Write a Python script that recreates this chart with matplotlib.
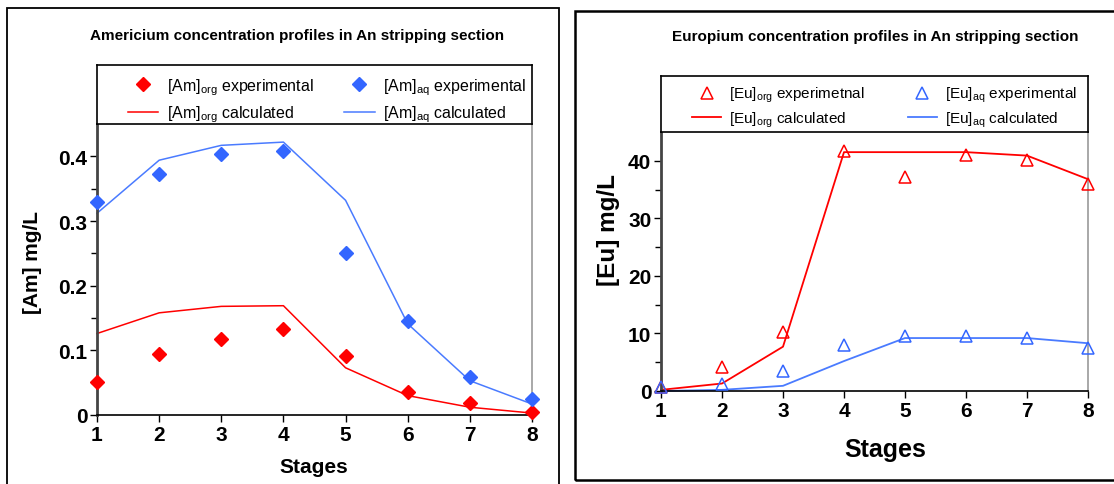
import matplotlib.pyplot as plt
import matplotlib.patches as patches
import numpy as np

plt.rcParams['font.family'] = ['Liberation Sans', 'DejaVu Sans']
plt.rcParams['mathtext.default'] = 'regular'

stages = [1, 2, 3, 4, 5, 6, 7, 8]

# Americium (mg/L)
am_org_exp = [0.051, 0.095, 0.118, 0.133, 0.091, 0.035, 0.018, 0.005]
am_aq_exp = [0.329, 0.373, 0.404, 0.409, 0.251, 0.145, 0.058, 0.025]
am_org_calc = [0.126, 0.158, 0.168, 0.169, 0.073, 0.030, 0.012, 0.003]
am_aq_calc = [0.312, 0.394, 0.417, 0.422, 0.332, 0.141, 0.053, 0.017]

# Europium (mg/L)
eu_org_exp = [0.7, 4.1, 10.3, 41.7, 37.1, 41.0, 40.2, 36.0]
eu_aq_exp = [0.7, 1.3, 3.5, 8.0, 9.6, 9.6, 9.2, 7.4]
eu_org_calc = [0.2, 1.3, 7.7, 41.5, 41.5, 41.5, 40.9, 36.8]
eu_aq_calc = [0.0, 0.2, 0.9, 5.2, 9.2, 9.2, 9.2, 8.3]

RED = '#ff0000'
BLUE = '#3366ff'
BLUE_LINE = '#4a7bff'

W, H = 1114, 485
fig = plt.figure(figsize=(W / 100, H / 100), dpi=100)


def px(x0, y0, x1, y1):
    # pixel box -> figure rect
    return [x0 / W, 1 - y1 / H, (x1 - x0) / W, (y1 - y0) / H]


# panel frames
fig.add_artist(patches.Rectangle((7 / W, -0.1), (559 - 7) / W, 1 - 9 / H + 0.1,
                                 transform=fig.transFigure, fill=False, lw=1.3, ec='black'))
fig.add_artist(patches.Rectangle((575 / W, 1 - 481 / H), (1200 - 575) / W, (481 - 12) / H,
                                 transform=fig.transFigure, fill=False, lw=1.8, ec='black'))


def style_axes(ax, tick_fs):
    ax.spines['left'].set_color('#444444')
    ax.spines['left'].set_linewidth(2)
    ax.spines['bottom'].set_color('black')
    ax.spines['bottom'].set_linewidth(1.2)
    ax.spines['right'].set_color('#999999')
    ax.spines['right'].set_linewidth(1.2)
    ax.spines['top'].set_visible(False)
    ax.tick_params(axis='both', which='major', direction='out', length=5, width=1,
                   labelsize=tick_fs, pad=2)
    ax.tick_params(axis='y', which='minor', direction='out', length=4, width=1)
    ax.tick_params(axis='x', which='minor', length=0)
    for lab in ax.get_xticklabels() + ax.get_yticklabels():
        lab.set_fontweight('bold')


def legend_box(rect, handles, labels, fs, anchor, colsp, lsp):
    lax = fig.add_axes(rect)
    lax.set_xticks([])
    lax.set_yticks([])
    for s in lax.spines.values():
        s.set_linewidth(1.2)
        s.set_color('black')
    fig.legend(handles, labels, loc='upper left', bbox_to_anchor=anchor, ncol=2,
               frameon=False, fontsize=fs, columnspacing=colsp, handlelength=1.9,
               handletextpad=0.55, labelspacing=lsp, borderaxespad=0, borderpad=0)
    return lax


# ---- Americium ----
ax1 = fig.add_axes(px(97, 125, 532, 416))
h1, = ax1.plot(stages, am_org_exp, 'D', color=RED, ms=7, ls='none', clip_on=False, zorder=3)
h2, = ax1.plot(stages, am_aq_exp, 'D', color=BLUE, ms=7, ls='none', clip_on=False, zorder=3)
h3, = ax1.plot(stages, am_org_calc, '-', color=RED, lw=1.1, clip_on=False)
h4, = ax1.plot(stages, am_aq_calc, '-', color=BLUE_LINE, lw=1.1, clip_on=False)
ax1.set_xlim(1, 8)
ax1.set_ylim(0, 0.45)
ax1.set_xticks(stages)
ax1.set_yticks([0, 0.1, 0.2, 0.3, 0.4])
ax1.set_yticklabels(['0', '0.1', '0.2', '0.3', '0.4'])
ax1.set_yticks(np.arange(0.05, 0.45, 0.1), minor=True)
style_axes(ax1, 15)
legend_box(px(97, 66, 532, 125), [h1, h3, h2, h4],
           ['[Am]$_{org}$ experimental', '[Am]$_{org}$ calculated',
            '[Am]$_{aq}$ experimental', '[Am]$_{aq}$ calculated'], 11.5,
           (128 / W, 1 - 77 / H), 1.9, 0.45)
fig.text(297 / W, 1 - 36 / H, 'Americium concentration profiles in An stripping section',
         ha='center', va='center', fontsize=11, fontweight='bold')
fig.text(33 / W, 1 - 263 / H, '[Am] mg/L', rotation=90, ha='center', va='center',
         fontsize=15, fontweight='bold')
fig.text(314 / W, 1 - 468 / H, 'Stages', ha='center', va='center',
         fontsize=15, fontweight='bold')

# ---- Europium ----
ax2 = fig.add_axes(px(661, 133, 1088, 392))
g1, = ax2.plot(stages, eu_org_exp, '^', mfc='none', mec=RED, mew=1.1, ms=9, ls='none',
               clip_on=False, zorder=3)
g2, = ax2.plot(stages, eu_aq_exp, '^', mfc='none', mec=BLUE, mew=1.1, ms=9, ls='none',
               clip_on=False, zorder=3)
g3, = ax2.plot(stages, eu_org_calc, '-', color=RED, lw=1.3, clip_on=False)
g4, = ax2.plot(stages, eu_aq_calc, '-', color=BLUE_LINE, lw=1.3, clip_on=False)
ax2.set_xlim(1, 8)
ax2.set_ylim(0, 45)
ax2.set_xticks(stages)
ax2.set_yticks([0, 10, 20, 30, 40])
ax2.set_yticks(np.arange(5, 45, 10), minor=True)
style_axes(ax2, 15)
legend_box(px(661, 77, 1088, 133), [g1, g3, g2, g4],
           ['[Eu]$_{org}$ experimetnal', '[Eu]$_{org}$ calculated',
            '[Eu]$_{aq}$ experimental', '[Eu]$_{aq}$ calculated'], 11,
           (692 / W, 1 - 86 / H), 2.8, 0.35)
fig.text(875 / W, 1 - 37 / H, 'Europium concentration profiles in An stripping section',
         ha='center', va='center', fontsize=11, fontweight='bold')
fig.text(608 / W, 1 - 230 / H, '[Eu] mg/L', rotation=90, ha='center', va='center',
         fontsize=17.5, fontweight='bold')
fig.text(885 / W, 1 - 450 / H, 'Stages', ha='center', va='center',
         fontsize=18, fontweight='bold')

fig.savefig('out.png', dpi=100)
